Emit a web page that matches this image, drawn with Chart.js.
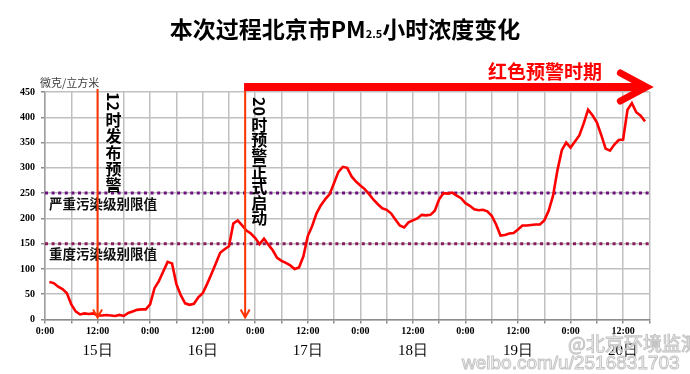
<!DOCTYPE html>
<html>
<head>
<meta charset="utf-8">
<script src="https://cdn.jsdelivr.net/npm/chart.js@4.4.0/dist/chart.umd.min.js"></script>
<style>
    html, body { margin: 0; padding: 0; background: #fff; }
</style>
</head>
<body>
<canvas id="pm25-chart" width="690" height="374"></canvas>
<script>
// hourly PM2.5, starting 15日 1:00
const firstHour = 1;
const pm25Values = [
    74, 72, 65, 60, 52, 30, 16, 10, 12, 11, 12, 8,
    8, 9, 8, 7, 9, 7, 13, 16, 19, 20, 20, 30,
    62, 76, 95, 114, 111, 70, 48, 32, 29, 31, 44, 52,
    70, 90, 111, 132, 139, 145, 190, 196, 186, 176, 170, 161,
    149, 160, 148, 137, 122, 116, 112, 107, 100, 103, 125, 165,
    185, 210, 226, 238, 248, 270, 292, 302, 300, 283, 273, 265,
    258, 248, 237, 228, 220, 217, 210, 198, 186, 182, 192, 196,
    200, 207, 206, 207, 215, 238, 250, 249, 251, 245, 240, 230,
    225, 218, 216, 217, 214, 205, 188, 166, 167, 170, 171, 178,
    186, 186, 187, 188, 188, 196, 215, 245, 295, 335, 350, 340,
    352, 364, 388, 415, 404, 390, 365, 338, 334, 346, 355, 356,
    415, 428, 410, 403, 392
];

const hourLabels = ['0:00', '', '12:00', ''];   // every 6 hours
const dayLabels  = ['15日', '16日', '17日', '18日', '19日', '20日'];
const limitValues = [250, 150];
const limitLabels = ['严重污染级别限值', '重度污染级别限值'];
const limitColors = ['#6E1080', '#8A1C5C'];

const issueHour    = 12;     // 12时发布预警
const redAlertHour = 45.7;   // 20时预警正式启动
const lastHour     = 138;

const cjk   = '"Noto Sans CJK SC", "Noto Sans", sans-serif';
const serif = '"Liberation Serif", "DejaVu Serif", serif';

function drawDownArrow(ctx, x, top, tip)
{
    ctx.strokeStyle = '#FF3300';
    ctx.lineWidth = 2;
    ctx.beginPath();
    ctx.moveTo(x, top);
    ctx.lineTo(x, tip);
    ctx.moveTo(x - 4.5, tip - 8);
    ctx.lineTo(x, tip);
    ctx.lineTo(x + 4.5, tip - 8);
    ctx.stroke();
}

function drawVerticalText(ctx, cx, top, digits, chars, pitch)
{
    ctx.font = 'bold 16px ' + cjk;
    ctx.fillStyle = '#000';
    ctx.textAlign = 'center';
    ctx.textBaseline = 'middle';
    let w = ctx.measureText(digits).width;
    ctx.save();
    ctx.translate(cx, top + w / 2);
    ctx.rotate(Math.PI / 2);
    ctx.fillText(digits, 0, 0);
    ctx.restore();
    let yy = top + w + pitch / 2 + 1;
    for (let ch of chars) {
        ctx.fillText(ch, cx, yy);
        yy += pitch;
    }
}

const overlay = {
    id: 'overlay',
    afterDatasetsDraw(chart) {
        const { ctx, chartArea: a, scales: { x, y } } = chart;
        ctx.save();

        // title
        ctx.textBaseline = 'alphabetic';
        ctx.fillStyle = '#000';
        let parts = [['本次过程北京市PM', 'bold 23px ' + cjk], ['2.5', 'bold 11px ' + cjk], ['小时浓度变化', 'bold 23px ' + cjk]];
        let total = 0;
        parts.forEach(p => { ctx.font = p[1]; total += ctx.measureText(p[0]).width; });
        let tx = chart.width / 2 - total / 2;
        ctx.textAlign = 'left';
        parts.forEach(p => { ctx.font = p[1]; ctx.fillText(p[0], tx, 38); tx += ctx.measureText(p[0]).width; });

        // unit
        ctx.font = '11px ' + cjk;
        ctx.fillStyle = '#404040';
        ctx.textBaseline = 'middle';
        ctx.fillText('微克/立方米', a.left - 5, a.top - 9);

        // limit labels
        ctx.font = 'bold 13.5px ' + cjk;
        ctx.fillStyle = '#111';
        limitValues.forEach((v, i) => ctx.fillText(limitLabels[i], a.left + 4, y.getPixelForValue(v) + 10.5));

        // arrows
        const x1 = x.getPixelForValue(issueHour);
        const x2 = x.getPixelForValue(redAlertHour);
        drawDownArrow(ctx, x1, a.top - 3, a.bottom - 2);
        drawDownArrow(ctx, x2, a.top - 8, a.bottom - 2);

        drawVerticalText(ctx, x1 + 16, a.top, '12', '时发布预警', 16.3);
        drawVerticalText(ctx, x2 + 14, a.top + 5, '20', '时预警正式启动', 15.6);

        // red period arrow
        ctx.strokeStyle = '#FF0000';
        ctx.lineWidth = 8;
        ctx.beginPath();
        ctx.moveTo(x2 - 1, a.top - 5);
        ctx.lineTo(a.right - 6, a.top - 5);
        ctx.stroke();
        ctx.lineWidth = 7;
        ctx.lineCap = 'round';
        ctx.lineJoin = 'miter';
        ctx.beginPath();
        ctx.moveTo(a.right - 29, a.top - 19);
        ctx.lineTo(a.right - 3, a.top - 5);
        ctx.lineTo(a.right - 29, a.top + 9);
        ctx.stroke();

        ctx.font = 'bold 19px ' + cjk;
        ctx.fillStyle = '#FF0000';
        ctx.textAlign = 'center';
        ctx.fillText('红色预警时期', 545, a.top - 20);

        // weibo watermark
        ctx.textAlign = 'left';
        ctx.lineWidth = 1;
        ctx.strokeStyle = '#C4C4C4';
        ctx.fillStyle = 'rgba(255,255,255,0.6)';
        ctx.font = '19px ' + cjk;
        ctx.fillText('@北京环境监测', 568, 344);
        ctx.strokeText('@北京环境监测', 568, 344);
        ctx.font = '19px "Liberation Sans", sans-serif';
        ctx.fillText('weibo.com/u/2516831703', 462, 364);
        ctx.strokeText('weibo.com/u/2516831703', 462, 364);

        ctx.restore();
    }
};

const ctx = document.getElementById('pm25-chart');

new Chart(ctx, {
    type: 'line',
    data: {
        datasets: [{
            label: 'PM2.5',
            data: pm25Values.map((v, i) => ({ x: firstHour + i, y: v })),
            borderColor: '#FF0000',
            borderWidth: 2.6,
            pointRadius: 0,
            tension: 0
        }].concat(limitValues.map((v, i) => ({
            label: limitLabels[i],
            data: [{ x: 0, y: v }, { x: lastHour, y: v }],
            borderColor: limitColors[i],
            borderWidth: 3,
            borderDash: [3, 3.6],
            pointRadius: 0
        })))
    },
    options: {
        responsive: false,
        animation: false,
        devicePixelRatio: 1,
        layout: { padding: { top: 92, right: 40.6, bottom: 12.5, left: 0 } },
        plugins: {
            legend: { display: false },
            tooltip: { enabled: false }
        },
        scales: {
            x: {
                type: 'linear',
                min: 0,
                max: lastHour,
                afterBuildTicks: axis => {
                    let t = [];
                    for (let h = 0; h <= lastHour; h += 6) t.push({ value: h });
                    axis.ticks = t;
                },
                ticks: {
                    autoSkip: false,
                    maxRotation: 0,
                    padding: 2,
                    color: '#000',
                    font: { family: serif, weight: 'bold', size: 10 },
                    callback: v => hourLabels[(v / 6) % 4]
                },
                grid: { color: '#C0C0C0', lineWidth: 1.5, tickLength: 4, tickColor: '#8C8C8C' },
                border: { color: '#8C8C8C', width: 1.5 },
                afterFit: s => { s.height = 20; }
            },
            xDay: {
                type: 'linear',
                position: 'bottom',
                min: 0,
                max: lastHour,
                afterBuildTicks: axis => {
                    axis.ticks = dayLabels.map((d, i) => ({ value: 12 + 24 * i }));
                },
                ticks: {
                    autoSkip: false,
                    maxRotation: 0,
                    padding: 3,
                    color: '#000',
                    font: { family: serif, size: 15 },
                    callback: v => dayLabels[(v - 12) / 24]
                },
                grid: { display: false, drawTicks: false },
                border: { display: false },
                afterFit: s => { s.height = 22; }
            },
            y: {
                min: 0,
                max: 450,
                ticks: {
                    stepSize: 50,
                    padding: 6,
                    color: '#000',
                    font: { family: serif, weight: 'bold', size: 10 }
                },
                grid: { color: '#C0C0C0', lineWidth: 1.5, tickLength: 4, tickColor: '#8C8C8C' },
                border: { color: '#A0A0A0', width: 1.5 },
                afterFit: s => { s.width = 45; }
            }
        }
    },
    plugins: [overlay]
});
</script>
</body>
</html>
